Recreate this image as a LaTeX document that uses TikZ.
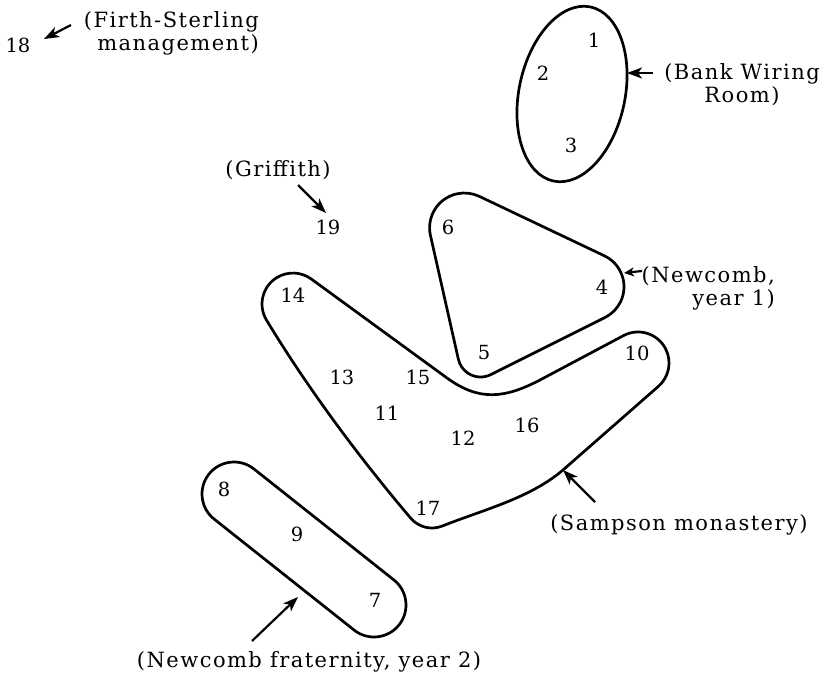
\documentclass[tikz,border=0pt]{standalone}
\usepackage{fontspec}
\newfontfamily\labfont[LetterSpace=7]{DejaVu Serif}
\newfontfamily\numfont{DejaVu Serif}
\usetikzlibrary{arrows.meta,calc}
\begin{document}
\begin{tikzpicture}[x=1pt,y=1pt,yscale=-1,
  outline/.style={line width=2.7pt, line join=round},
  num/.style={font=\numfont\fontsize{19.5}{22}\selectfont, inner sep=1pt},
  lab/.style={font=\labfont\fontsize{21}{23}\selectfont, inner sep=0pt},
  arr/.style={line width=2.2pt, -{Stealth[length=15pt,width=11pt,inset=4pt]}}]
\useasboundingbox (0,0) rectangle (825,677);

% Bank Wiring Room group
\draw[outline, rotate around={12:(572,94)}] (572,94) ellipse[x radius=53, y radius=89];

% Newcomb year 1 group
\draw[outline] (430.45,235.45) arc[start angle=167.3, end angle=295.4, radius=34.8]
  -- (604.41,255.82) arc[start angle=295.4, end angle=423.4, radius=34.3]
  -- (490.81,374.59) arc[start angle=63.4, end angle=167.3, radius=22.8] -- cycle;

% Sampson monastery group
\draw[outline] (266.5,320.1) arc[start angle=148.8, end angle=306.2, radius=31]
  -- (447,378) .. controls (479.4,401.5) and (504.5,398.4) .. (540,380)
  -- (623.5,335.6) arc[start angle=242.05, end angle=409.6, radius=31]
  -- (563,470) .. controls (529.5,498.5) and (483.2,509.7) .. (442.4,526)
  arc[start angle=68.2, end angle=139.7, radius=28]
  .. controls (358.9,457.1) and (307.9,388.5) .. (266.5,320.1) -- cycle;

% Newcomb fraternity group (stadium)
\coordinate (c8) at (234,494);
\coordinate (c7) at (374,605);
\draw[outline] ($(c8)+(-51.6:32)$) -- ($(c7)+(-51.6:32)$) arc[start angle=-51.6, end angle=128.4, radius=32] -- ($(c8)+(128.4:32)$) arc[start angle=128.4, end angle=308.4, radius=32] -- cycle;

% numbers
\node[num] (n1) at (594,40) {1};
\node[num] (n2) at (543,73) {2};
\node[num] (n3) at (571,145) {3};
\node[num] (n4) at (602,287) {4};
\node[num] (n5) at (484,353) {5};
\node[num] (n6) at (448,227) {6};
\node[num] (n7) at (375,600) {7};
\node[num] (n8) at (224,489) {8};
\node[num] (n9) at (297,534) {9};
\node[num] (n10) at (637,353) {10};
\node[num] (n11) at (387,413) {11};
\node[num] (n12) at (463,438) {12};
\node[num] (n13) at (342,377) {13};
\node[num] (n14) at (293,295) {14};
\node[num] (n15) at (418,377) {15};
\node[num] (n16) at (527,425) {16};
\node[num] (n17) at (428,508) {17};
\node[num] (n18) at (18,45) {18};
\node[num] (n19) at (328,227) {19};

% labels
\node[lab, align=right, anchor=east] (firth) at (259,33) {(Firth-Sterling\\management)};
\node[lab, align=center] (bank) at (742,85) {(Bank Wiring\\Room)};
\node[lab] (griffith) at (278,170) {(Griffith)};
\node[lab, align=right, anchor=east] (newcombone) at (775,288) {(Newcomb,\\year 1)};
\node[lab] (sampson) at (679,525) {(Sampson monastery)};
\node[lab] (frat) at (309,662) {(Newcomb fraternity, year 2)};

% arrows
\coordinate (firthT) at (71,25);   \coordinate (firthH) at (44,39);
\coordinate (bankT) at (653,73);   \coordinate (bankH) at (627,73);
\coordinate (griffT) at (298,185); \coordinate (griffH) at (326,213);
\coordinate (newT) at (642,271);   \coordinate (newH) at (624,273);
\coordinate (sampT) at (595,502);  \coordinate (sampH) at (563,470);
\coordinate (fratT) at (252,641);  \coordinate (fratH) at (298,597);
\draw[arr] (firthT) -- (firthH);
\draw[arr] (bankT) -- (bankH);
\draw[arr] (griffT) -- (griffH);
\draw[arr, -{Stealth[length=10pt,width=9pt,inset=3pt]}] (newT) -- (newH);
\draw[arr] (sampT) -- (sampH);
\draw[arr] (fratT) -- (fratH);
\end{tikzpicture}
\end{document}
